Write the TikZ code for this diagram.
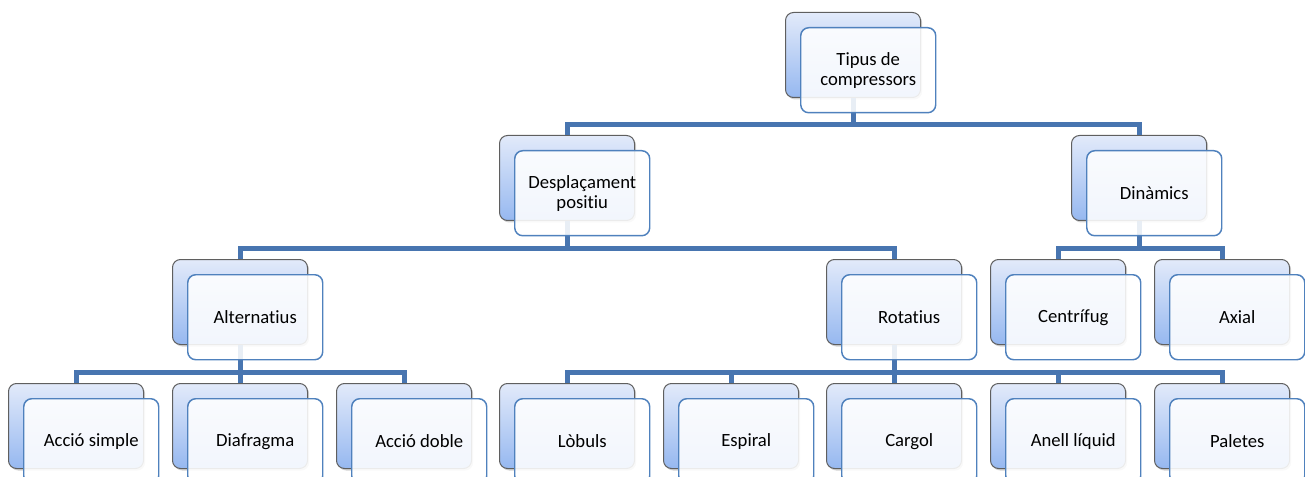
\documentclass[tikz,border=0pt]{standalone}
\usepackage{fontspec}
\setmainfont{Carlito}[Ligatures={NoCommon,NoRare,NoContextual}]
\usepackage{tikz}
\usetikzlibrary{calc}
\usetikzlibrary{shadows}
\definecolor{linkblue}{RGB}{72,117,176}
\definecolor{frontblue}{RGB}{79,129,189}
\definecolor{backtop}{RGB}{226,234,250}
\definecolor{backbot}{RGB}{150,184,240}
\definecolor{boxgrey}{RGB}{95,95,95}
\tikzset{
  backbox/.style={draw=boxgrey, line width=0.75pt, rounded corners=6pt,
    top color=backtop, bottom color=backbot, minimum width=101.25pt,
    minimum height=63.75pt, inner sep=0pt, anchor=north west,
    drop shadow={shadow xshift=1.2pt, shadow yshift=-1.5pt, opacity=0.35}},
  frontbox/.style={draw=frontblue, line width=1.1pt, rounded corners=6pt,
    fill=white, fill opacity=0.88, text opacity=1, minimum width=101.25pt,
    minimum height=63.75pt, inner sep=0pt, anchor=north west, align=center,
    font=\fontsize{14pt}{15pt}\selectfont},
  link/.style={draw=linkblue, line width=3.75pt, line join=miter}
}
\newcommand{\backbox}[3]{ \node[backbox] (#1-b) at ( #2 , #3 ) {};}
\newcommand{\frontbox}[2]{ \node[frontbox] (#1) at ($(#1-b.north west)+(15,15)$) {#2};}
\newcommand{\link}[2]{ \draw[link] (#1-b.south) -- ++(0,27) -| (#2-b.north);}

\begin{document}
\begin{tikzpicture}[x=0.75pt, y=-0.75pt]
\useasboundingbox (0,0) rectangle (1305,477);
% back boxes, level 1 and 2
\backbox{tipus}{785}{12}
\backbox{despl}{499}{135}
\backbox{dinam}{1071}{135}
% back boxes, level 3
\backbox{alter}{172}{259}
\backbox{rotat}{826}{259}
\backbox{centr}{990}{259}
\backbox{axial}{1154}{259}
% back boxes, level 4
\backbox{simple}{8}{383}
\backbox{diafr}{172}{383}
\backbox{doble}{336}{383}
\backbox{lobul}{499}{383}
\backbox{espir}{663}{383}
\backbox{cargo}{826}{383}
\backbox{anell}{990}{383}
\backbox{palet}{1154}{383}
% links
\link{tipus}{despl}
\link{tipus}{dinam}
\link{despl}{alter}
\link{despl}{rotat}
\link{dinam}{centr}
\link{dinam}{axial}
\link{alter}{simple}
\link{alter}{diafr}
\link{alter}{doble}
\link{rotat}{lobul}
\link{rotat}{espir}
\link{rotat}{cargo}
\link{rotat}{anell}
\link{rotat}{palet}
% front boxes
\frontbox{tipus}{Tipus de\\compressors}
\frontbox{despl}{Desplaçament\\positiu}
\frontbox{dinam}{Dinàmics}
\frontbox{alter}{Alternatius}
\frontbox{rotat}{Rotatius}
\frontbox{centr}{Centrífug}
\frontbox{axial}{Axial}
\frontbox{simple}{Acció simple}
\frontbox{diafr}{Diafragma}
\frontbox{doble}{Acció doble}
\frontbox{lobul}{Lòbuls}
\frontbox{espir}{Espiral}
\frontbox{cargo}{Cargol}
\frontbox{anell}{Anell líquid}
\frontbox{palet}{Paletes}
\end{tikzpicture}
\end{document}
